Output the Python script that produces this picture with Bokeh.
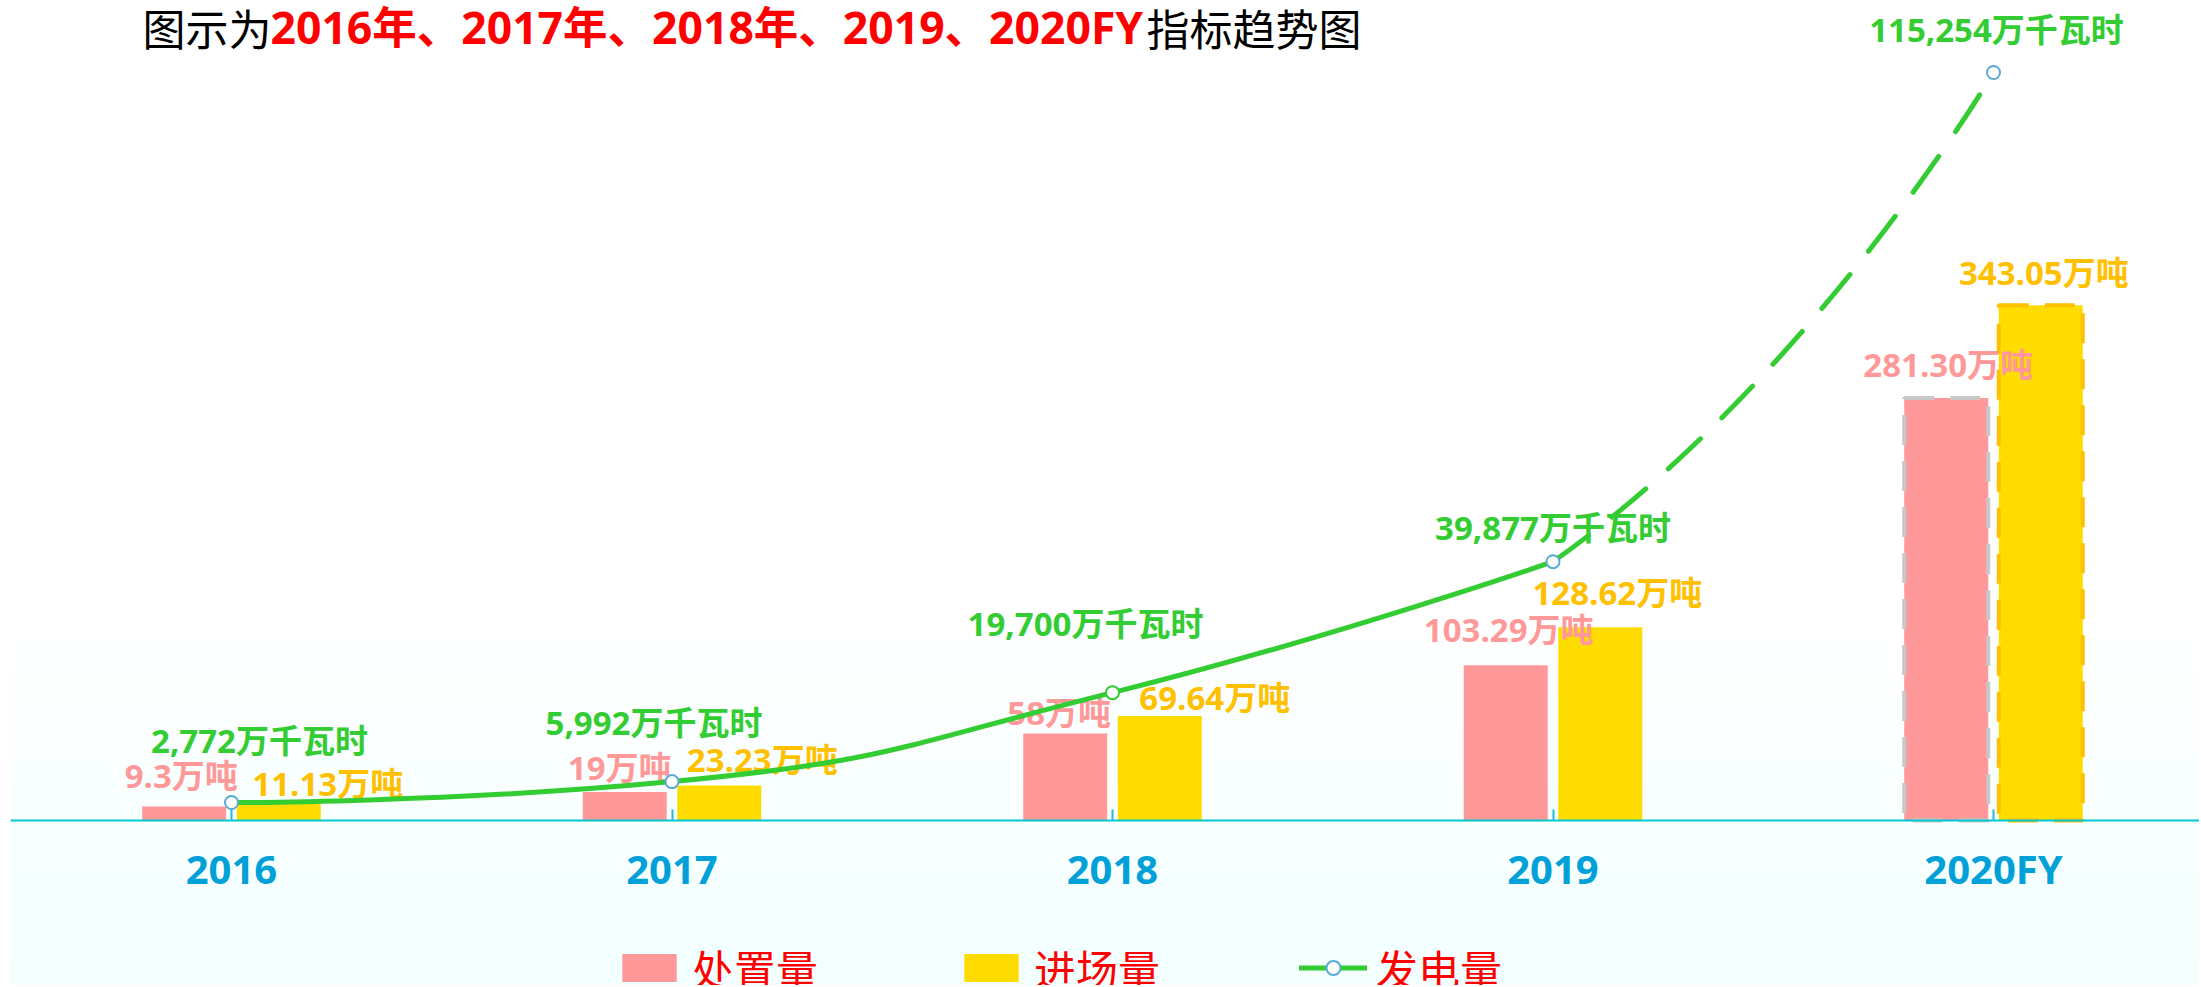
import math
from bokeh.plotting import figure
from bokeh.models import (Range1d, ColumnDataSource, CDSView, IndexFilter, FixedTicker,
                          Label, Legend, LegendItem, BoxAnnotation)
from bokeh.transform import dodge
from bokeh.core.properties import value
from bokeh.embed import file_html
from bokeh.resources import INLINE

# ---------------- data ----------------
categories = ["2016", "2017", "2018", "2019", "2020FY"]
disposal = [9.3, 19, 58, 103.29, 281.30]            # 处置量 (万吨)
disposal_txt = ["9.3", "19", "58", "103.29", "281.30"]
intake = [11.13, 23.23, 69.64, 128.62, 343.05]      # 进场量 (万吨)
intake_txt = ["11.13", "23.23", "69.64", "128.62", "343.05"]
power = [2772, 5992, 19700, 39877, 115254]          # 发电量 (万千瓦时)

# label offsets in pixels (layout only)
d_dx = [-3, -5, -6, 3, 2]
d_dy = [-31, -24, -21, -36, -33]
i_dx = [49, 43, 55, 17, 3]
i_dy = [-20, -26, -18, -35, -33]
p_dx = [28, -18, -27, 0, 3]
p_dy = [-62, -59, -69, -34, -43]
marker_line = ["#5aaad6", "#5aaad6", "#33cc33", "#5aaad6", "#5aaad6"]

# ---------------- layout constants ----------------
W, H = 2199, 985
CAT_PX = 440.5        # pixels per category
CAT0 = 231            # canvas x of first category
BASE = 820            # canvas y of the baseline
BAR_PX = 1.502        # pixels per 万吨
LINE_PX = 0.00649     # pixels per 万千瓦时
FRAME_LEFT = 10
BAR_OFF = 0.1073
BAR_W = 0.1907

def xp(cx):
    return (cx - CAT0) / CAT_PX

def yp(cy):
    return (BASE - cy) / BAR_PX

x_range = Range1d(xp(FRAME_LEFT), xp(W))
y_range = Range1d(yp(H), yp(0))
line_range = Range1d((BASE - H) / LINE_PX, BASE / LINE_PX)

p = figure(width=W, height=H, x_range=x_range, y_range=y_range,
           output_backend="svg", toolbar_location=None, y_axis_location=None,
           min_border_left=FRAME_LEFT, min_border_right=0,
           min_border_top=0, min_border_bottom=0,
           background_fill_color="white", border_fill_color="white",
           outline_line_color=None)
p.extra_y_ranges = {"line": line_range}
p.xgrid.visible = False
p.ygrid.visible = False

# background gradient (stacked translucent bands)
for k in range(12):
    top_c = 640 + 29 * k
    p.add_layout(BoxAnnotation(top=yp(top_c), bottom=yp(H + 20),
                               fill_color="#d2ebf8", fill_alpha=0.025,
                               line_color=None, level="underlay"))

# x axis on the baseline
ax = p.xaxis[0]
ax.fixed_location = 0
ax.ticker = FixedTicker(ticks=list(range(len(categories))))
ax.major_label_overrides = {i: c for i, c in enumerate(categories)}
ax.axis_line_color = "#00c8d4"
ax.axis_line_width = 2
ax.major_tick_in = 11
ax.major_tick_out = 0
ax.major_tick_line_color = "#20bcd8"
ax.major_tick_line_width = 2
ax.minor_tick_line_color = None
ax.major_label_text_font = "Open Sans"
ax.major_label_text_font_style = "bold"
ax.major_label_text_font_size = "40px"
ax.major_label_text_color = "#00a0d8"
ax.major_label_standoff = 20

src = ColumnDataSource(dict(
    idx=list(range(len(categories))),
    disposal=disposal, intake=intake, power=power,
    d_lbl=[t + "万吨" for t in disposal_txt],
    i_lbl=[t + "万吨" for t in intake_txt],
    p_lbl=[f"{v:,}万千瓦时" for v in power],
    d_dx=d_dx, d_dy=d_dy, i_dx=i_dx, i_dy=i_dy, p_dx=p_dx, p_dy=p_dy,
    mk=marker_line,
))
n = len(categories)
actual = CDSView(filter=IndexFilter(list(range(n - 1))))
forecast = CDSView(filter=IndexFilter([n - 1]))

xd = dodge("idx", -BAR_OFF, range=p.x_range)
xi = dodge("idx", BAR_OFF, range=p.x_range)

pink_r = p.vbar(x=xd, top="disposal", width=BAR_W, source=src, view=actual,
                fill_color="#ff9999", line_color=None)
p.vbar(x=xd, top="disposal", width=BAR_W, source=src, view=forecast,
       fill_color="#ff9999", line_color="#c8c8c8", line_width=4, line_dash="30 16")
yel_r = p.vbar(x=xi, top="intake", width=BAR_W, source=src, view=actual,
               fill_color="#ffdc00", line_color=None)
p.vbar(x=xi, top="intake", width=BAR_W, source=src, view=forecast,
       fill_color="#ffdc00", line_color="#ffc000", line_width=4, line_dash="30 16")

lbl_font = value("Open Sans, Noto Sans CJK SC")
p.text(x=xd, y="disposal", text="d_lbl", x_offset="d_dx", y_offset="d_dy", source=src,
       text_font=lbl_font, text_font_style="bold", text_font_size="33px",
       text_color="#ff9999", text_align="center", text_baseline="middle")
p.text(x=xi, y="intake", text="i_lbl", x_offset="i_dx", y_offset="i_dy", source=src,
       text_font=lbl_font, text_font_style="bold", text_font_size="33px",
       text_color="#ffc000", text_align="center", text_baseline="middle")

# ---- smooth curve (echarts-like smoothing computed in pixel space) ----
def smooth_segments(xs, ys, smooth=0.5):
    pts = [(x * CAT_PX, y * LINE_PX) for x, y in zip(xs, ys)]
    segs = []
    cp0 = pts[0]
    for i in range(1, len(pts)):
        x, y = pts[i]
        px_, py_ = pts[i - 1]
        if i == len(pts) - 1:
            cp1 = (x, y)
            ncp0 = None
        else:
            nx, ny = pts[i + 1]
            vx, vy = nx - px_, ny - py_
            lp = math.hypot(x - px_, y - py_)
            ln = math.hypot(nx - x, ny - y)
            r = ln / (ln + lp)
            ncx = x + vx * smooth * r
            ncy = y + vy * smooth * r
            ncx = max(min(ncx, max(nx, x)), min(nx, x))
            ncy = max(min(ncy, max(ny, y)), min(ny, y))
            vx, vy = ncx - x, ncy - y
            c1x = x - vx * lp / ln
            c1y = y - vy * lp / ln
            c1x = max(min(c1x, max(px_, x)), min(px_, x))
            c1y = max(min(c1y, max(py_, y)), min(py_, y))
            vx, vy = x - c1x, y - c1y
            ncp0 = (x + vx * ln / lp, y + vy * ln / lp)
            cp1 = (c1x, c1y)
        segs.append((pts[i - 1], cp0, cp1, pts[i]))
        cp0 = ncp0
    return segs

def seg_cols(segs):
    d = dict(x0=[], y0=[], x1=[], y1=[], cx0=[], cy0=[], cx1=[], cy1=[])
    for a, c0, c1, b in segs:
        d["x0"].append(a[0] / CAT_PX); d["y0"].append(a[1] / LINE_PX)
        d["cx0"].append(c0[0] / CAT_PX); d["cy0"].append(c0[1] / LINE_PX)
        d["cx1"].append(c1[0] / CAT_PX); d["cy1"].append(c1[1] / LINE_PX)
        d["x1"].append(b[0] / CAT_PX); d["y1"].append(b[1] / LINE_PX)
    return d

idx = list(range(n))
solid = seg_cols(smooth_segments(idx[:n - 1], power[:n - 1]))
dashed = seg_cols(smooth_segments(idx, power)[-1:])

line_r = p.bezier(source=ColumnDataSource(solid), x0="x0", y0="y0", x1="x1", y1="y1",
                  cx0="cx0", cy0="cy0", cx1="cx1", cy1="cy1", y_range_name="line",
                  line_color="#33cc33", line_width=5, line_cap="round")
p.bezier(source=ColumnDataSource(dashed), x0="x0", y0="y0", x1="x1", y1="y1",
         cx0="cx0", cy0="cy0", cx1="cx1", cy1="cy1", y_range_name="line",
         line_color="#33cc33", line_width=5, line_cap="round", line_dash="44 30")
mk_r = p.scatter(x="idx", y="power", source=src, y_range_name="line", marker="circle",
                 size=13, fill_color="white", line_color="mk", line_width=2)
p.text(x="idx", y="power", text="p_lbl", x_offset="p_dx", y_offset="p_dy", source=src,
       y_range_name="line", text_font=lbl_font, text_font_style="bold",
       text_font_size="33px", text_color="#33cc33", text_align="center",
       text_baseline="middle")

# ---------------- title ----------------
TY = 26
p.add_layout(Label(x=xp(142), y=yp(TY), text="图示为", text_font="Noto Sans CJK SC",
                   text_font_size="43px", text_color="#000000", text_align="left",
                   text_baseline="middle"))
p.add_layout(Label(x=xp(270), y=yp(TY), text="2016年、2017年、2018年、2019、2020FY",
                   text_font="Open Sans, Noto Sans CJK SC", text_font_style="bold",
                   text_font_size="44.5px", text_color="#ff0000", text_align="left",
                   text_baseline="middle"))
p.add_layout(Label(x=xp(1146), y=yp(TY), text="指标趋势图", text_font="Noto Sans CJK SC",
                   text_font_size="43px", text_color="#000000", text_align="left",
                   text_baseline="middle"))

# ---------------- legend ----------------
legend = Legend(items=[LegendItem(label="处置量", renderers=[pink_r]),
                       LegendItem(label="进场量", renderers=[yel_r]),
                       LegendItem(label="发电量", renderers=[line_r, mk_r])],
                orientation="horizontal", location=(605, -13),
                glyph_width=68, glyph_height=35, label_standoff=9, spacing=139,
                padding=0, margin=0, border_line_color=None, background_fill_alpha=0,
                label_text_font="Noto Sans CJK SC", label_text_font_size="42px",
                label_text_color="#ff0000")
p.add_layout(legend)

open("out.html", "w").write(file_html(p, INLINE))
